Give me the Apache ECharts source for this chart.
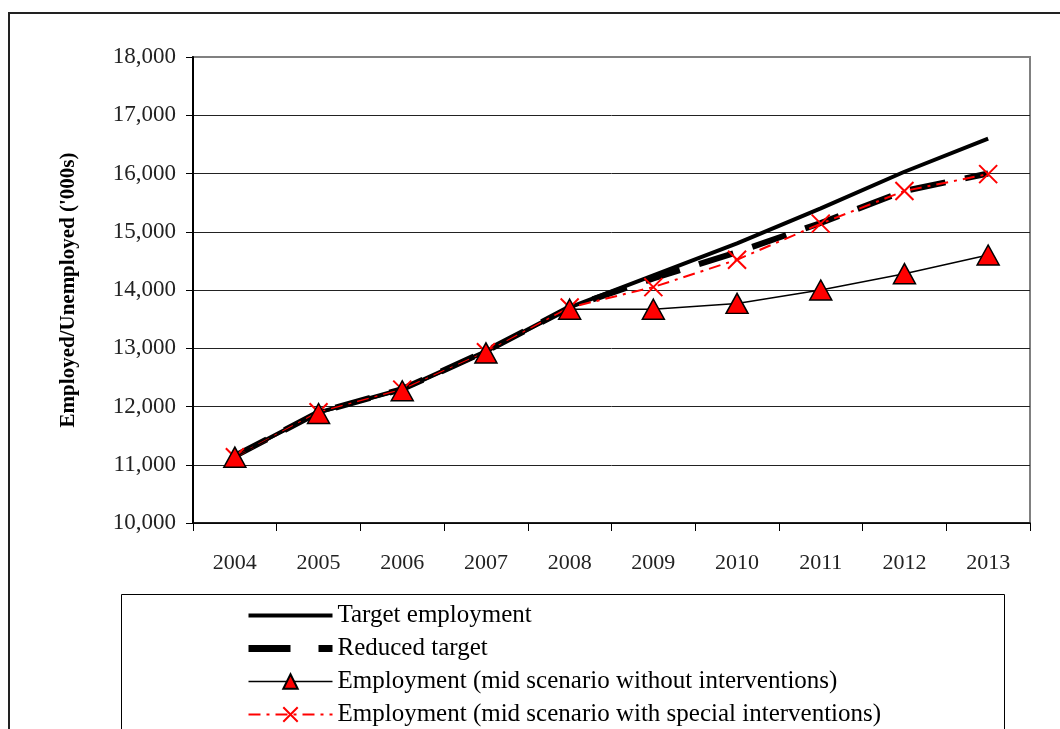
<!DOCTYPE html>
<html>
<head>
<meta charset="utf-8">
<script src="https://cdn.jsdelivr.net/npm/echarts@6/dist/echarts.min.js"></script>
<style>
html,body{margin:0;padding:0;background:#fff;}
#chart{width:1060px;height:729px;}
</style>
</head>
<body>
<div id="chart"></div>
<script>
const years = ['2004','2005','2006','2007','2008','2009','2010','2011','2012','2013'];
const targetEmployment = [11150, 11900, 12300, 12950, 13700, 14250, 14800, 15400, 16030, 16600];
const reducedTarget    = [11150, 11900, 12300, 12950, 13700, 14200, 14650, 15150, 15700, 16000];
const withoutInterventions = [11130, 11880, 12270, 12920, 13670, 13670, 13770, 14000, 14280, 14600];
const withInterventions    = [11130, 11900, 12290, 12930, 13700, 14050, 14520, 15140, 15700, 15990];
const seriesNames = [
  'Target employment',
  'Reduced target',
  'Employment (mid scenario without interventions)',
  'Employment (mid scenario with special interventions)'
];
const yMin = 10000, yMax = 18000, yStep = 1000;
const yAxisTitle = "Employed/Unemployed ('000s)";

const FONT = '"Liberation Serif", "DejaVu Serif", serif';
const chart = echarts.init(document.getElementById('chart'), null, {renderer: 'canvas'});

function fmt(v){ return String(v).replace(/\B(?=(\d{3})+(?!\d))/g, ','); }

const HIDDEN = {color: 'rgba(0,0,0,0)', borderColor: 'rgba(0,0,0,0)', borderWidth: 0, opacity: 0};

const option = {
  backgroundColor: '#fff',
  animation: false,
  grid: {left: 193, right: 30, top: 57, bottom: 206, show: true, borderColor: '#808080', borderWidth: 2, backgroundColor: 'transparent'},
  xAxis: {
    type: 'category', data: years, boundaryGap: true,
    axisLine: {show: true, lineStyle: {color: '#000', width: 1.5}},
    axisTick: {show: true, length: 8, inside: false, lineStyle: {color: '#000', width: 1}},
    axisLabel: {fontFamily: FONT, fontSize: 22, color: '#222', margin: 29},
    splitLine: {show: false}
  },
  yAxis: {
    type: 'value', min: yMin, max: yMax, interval: yStep,
    name: yAxisTitle, nameLocation: 'middle', nameGap: 114, nameRotate: 90,
    nameTextStyle: {fontFamily: FONT, fontSize: 21, fontWeight: 'bold', color: '#000'},
    axisLine: {show: true, lineStyle: {color: '#000', width: 2}},
    axisTick: {show: true, length: 7, lineStyle: {color: '#000', width: 1}},
    axisLabel: {fontFamily: FONT, fontSize: 23, color: '#222', margin: 17, formatter: fmt},
    splitLine: {show: true, showMaxLine: false, lineStyle: {color: '#222', width: 1}}
  },
  legend: {
    orient: 'vertical', left: 245, top: 603, padding: 0, height: 126,
    itemWidth: 84, itemHeight: 18, itemGap: 8,
    textStyle: {fontFamily: FONT, fontSize: 25, lineHeight: 24, color: '#000'},
    data: [
      {name: seriesNames[0], lineStyle: {width: 4, color: '#000', type: 'solid'}, itemStyle: HIDDEN},
      {name: seriesNames[1], lineStyle: {width: 7, color: '#000', type: [42, 28]}, itemStyle: HIDDEN},
      {name: seriesNames[2], lineStyle: {width: 1.5, color: '#000', type: 'solid'}},
      {name: seriesNames[3], lineStyle: {width: 2, color: '#ff0000', type: [12, 6, 3, 6]}}
    ]
  },
  graphic: [
    {type: 'polyline', silent: true, z: 100, shape: {points: [[9, 729], [9, 13], [1060, 13]]}, style: {stroke: '#222', lineWidth: 2, fill: null}},
    {type: 'rect', silent: true, z: 0, shape: {x: 121.5, y: 594.5, width: 883, height: 200}, style: {stroke: '#000', lineWidth: 1, fill: '#fff'}}
  ],
  series: [
    {
      name: seriesNames[0], type: 'line', data: targetEmployment, z: 3,
      symbol: 'none',
      lineStyle: {color: '#000', width: 4, type: 'solid'},
      itemStyle: {color: '#000'}
    },
    {
      name: seriesNames[1], type: 'line', data: reducedTarget, z: 4,
      symbol: 'none',
      lineStyle: {color: '#000', width: 6, type: [36, 20]},
      itemStyle: {color: '#000'}
    },
    {
      name: seriesNames[2], type: 'line', data: withoutInterventions, z: 6,
      symbol: 'triangle', symbolSize: [22, 20],
      lineStyle: {color: '#000', width: 1.5},
      itemStyle: {color: '#ff0000', borderColor: '#000', borderWidth: 1.5}
    },
    {
      name: seriesNames[3], type: 'line', data: withInterventions, z: 5,
      symbol: 'path://M0,0L10,10M10,0L0,10', symbolSize: 18,
      lineStyle: {color: '#ff0000', width: 2, type: [12, 6, 3, 6]},
      itemStyle: {color: '#ff0000', borderColor: '#ff0000', borderWidth: 2}
    }
  ]
};
chart.setOption(option);
</script>
</body>
</html>
